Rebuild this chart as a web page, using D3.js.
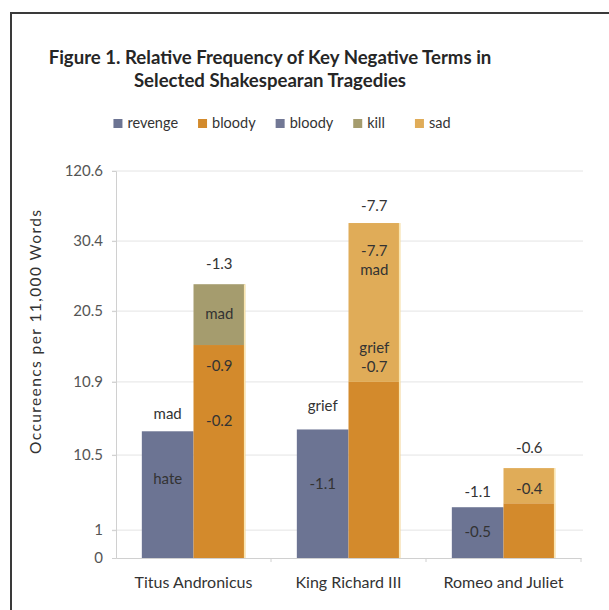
<!DOCTYPE html>
<html>
<head>
<meta charset="utf-8">
<script src="https://cdn.jsdelivr.net/npm/d3@7"></script>
<style>
  html, body { margin: 0; padding: 0; background: #fff; }
  svg { display: block; font-family: Lato, "Open Sans", sans-serif; }
</style>
</head>
<body>
<svg id="chart" width="609" height="610"></svg>
<script>
// Plays and the term series
const categories = ["Titus Andronicus", "King Richard III", "Romeo and Juliet"];
const yTickValues = [0, 1, 10.5, 10.9, 20.5, 30.4, 120.6];
const yTickLabels = ["0", "1", "10.5", "10.9", "20.5", "30.4", "120.6"];

const revenge   = [10.63, 10.64, 3.9];
const bloodyAlt = [0, 0, 0];
const bloody    = [15.9, 10.9, 4.4];
const kill      = [8.4, 0, 0];
const sad       = [0, 42.7, 4.45];

const seriesNames  = ["revenge", "bloody", "bloody", "kill", "sad"];
const seriesValues = [revenge, bloody, bloodyAlt, kill, sad];
const seriesStack  = ["a", "b", "a", "b", "b"];
const seriesColors = ["#6c7493", "#d38a2c", "#727895", "#a59c6e", "#e0ac58"];

// Data labels: play, stack, text, value on the y scale where the label sits
const labels = [
  ["Titus Andronicus", "a", "hate", 7.3],
  ["Titus Andronicus", "a", "mad", 10.72],
  ["Titus Andronicus", "b", "-0.2", 10.68],
  ["Titus Andronicus", "b", "-0.9", 12.9],
  ["Titus Andronicus", "b", "mad", 20.0],
  ["Titus Andronicus", "b", "-1.3", 27.0],
  ["King Richard III", "a", "-1.1", 6.7],
  ["King Richard III", "a", "grief", 10.76],
  ["King Richard III", "b", "grief", 15.4],
  ["King Richard III", "b", "-0.7", 12.8],
  ["King Richard III", "b", "-7.7", 28.8],
  ["King Richard III", "b", "mad", 26.2],
  ["King Richard III", "b", "-7.7", 74.2],
  ["Romeo and Juliet", "a", "-0.5", 0.89],
  ["Romeo and Juliet", "a", "-1.1", 5.7],
  ["Romeo and Juliet", "b", "-0.4", 6.07],
  ["Romeo and Juliet", "b", "-0.6", 10.53]
];

const svg = d3.select("#chart");
const W = 609, H = 610;
const margin = { top: 171, right: 26, bottom: 52, left: 116 };
const innerW = W - margin.left - margin.right;
const innerH = H - margin.top - margin.bottom;

// outer frame
svg.append("rect")
  .attr("x", 11).attr("y", 13)
  .attr("width", 640).attr("height", 640)
  .attr("fill", "#fff")
  .attr("stroke", "#3a3a3a").attr("stroke-width", 2);

// title
const title = svg.append("text")
  .attr("x", 270).attr("y", 64)
  .attr("text-anchor", "middle")
  .attr("font-size", 18.6).attr("font-weight", 700).attr("fill", "#262626");
title.append("tspan").attr("x", 270).text("Figure 1. Relative Frequency of Key Negative Terms in");
title.append("tspan").attr("x", 270).attr("dy", 23).text("Selected Shakespearan Tragedies");

// legend
const legend = svg.append("g");
let lx = 0;
seriesNames.forEach((name, i) => {
  const g = legend.append("g").attr("transform", `translate(${lx},0)`);
  g.append("rect").attr("x", 0).attr("y", -5).attr("width", 9).attr("height", 9)
    .attr("fill", seriesColors[i]);
  const t = g.append("text").attr("x", 14).attr("y", 0)
    .attr("dominant-baseline", "middle")
    .attr("font-size", 14.5).attr("fill", "#333").text(name);
  lx += 14 + t.node().getComputedTextLength() + (i === 3 ? 30 : 20);
});
lx -= 20;
legend.attr("transform", `translate(${282 - lx / 2},124)`);

const plot = svg.append("g").attr("transform", `translate(${margin.left},${margin.top})`);

// axis stops: the tick values sit at these fractions of the plot height
const tickStops = [0, 0.072, 0.266, 0.455, 0.638, 0.819, 1];
const y = d3.scaleLinear()
  .domain(yTickValues)
  .range(tickStops.map(f => innerH * (1 - f)));

const x = d3.scaleBand().domain(categories).range([0, innerW - 2]);
const xs = d3.scaleBand().domain(["a", "b"]).range([0, x.bandwidth()]).paddingOuter(0.5);

// gridlines
plot.append("g")
  .selectAll("line")
  .data(yTickValues.slice(1))
  .join("line")
  .attr("x1", -4).attr("x2", innerW)
  .attr("y1", d => y(d)).attr("y2", d => y(d))
  .attr("stroke", "#e4e4e4").attr("stroke-width", 1);

// y axis
const yAxis = plot.append("g")
  .call(d3.axisLeft(y).tickValues(yTickValues)
    .tickFormat((d, i) => yTickLabels[i]).tickSize(4).tickPadding(9));
yAxis.select(".domain").attr("stroke", "#d0d0d0");
yAxis.selectAll(".tick line").attr("stroke", "#d0d0d0");
yAxis.selectAll(".tick text").attr("font-size", 15).attr("fill", "#555")
  .attr("font-family", "Lato, sans-serif");

// stacked segments
const stackMembers = s => seriesNames.map((_, i) => i).filter(i => seriesStack[i] === s);
categories.forEach((cat, ci) => {
  ["a", "b"].forEach(s => {
    let base = 0;
    const segs = stackMembers(s).map(i => {
      const seg = { i, y0: base, y1: base + seriesValues[i][ci] };
      base = seg.y1;
      return seg;
    }).filter(d => d.y1 > d.y0);
    const bx = x(cat) + xs(s);
    plot.append("g").selectAll("rect")
      .data(segs)
      .join("rect")
      .attr("x", bx)
      .attr("width", xs.bandwidth())
      .attr("y", d => y(d.y1))
      .attr("height", d => y(d.y0) - y(d.y1))
      .attr("fill", d => seriesColors[d.i]);
    if (s === "b" && segs.length) {
      plot.append("line")
        .attr("x1", bx + xs.bandwidth() - 0.5).attr("x2", bx + xs.bandwidth() - 0.5)
        .attr("y1", y(base)).attr("y2", y(0))
        .attr("stroke", "#fbe6b0").attr("stroke-width", 1.5);
    }
  });
});

// x axis
const xAxis = plot.append("g").attr("transform", `translate(0,${innerH})`)
  .call(d3.axisBottom(x).tickSize(0).tickPadding(19));
xAxis.select(".domain").attr("stroke", "#d0d0d0");
xAxis.selectAll(".tick text").attr("font-size", 16).attr("fill", "#333")
  .attr("font-family", "Lato, sans-serif");
xAxis.selectAll(".bound")
  .data(categories)
  .join("line")
  .attr("x1", d => x(d) + x.bandwidth()).attr("x2", d => x(d) + x.bandwidth())
  .attr("y1", 0).attr("y2", 4)
  .attr("stroke", "#d0d0d0");

// data labels
plot.append("g").selectAll("text")
  .data(labels)
  .join("text")
  .attr("x", d => x(d[0]) + xs(d[1]) + xs.bandwidth() / 2)
  .attr("y", d => y(d[3]))
  .attr("text-anchor", "middle")
  .attr("dominant-baseline", "middle")
  .attr("font-size", 15)
  .attr("fill", "#333")
  .text(d => d[2]);

// y axis title
svg.append("text")
  .attr("transform", "translate(37,332) rotate(-90)")
  .attr("text-anchor", "middle")
  .attr("dominant-baseline", "middle")
  .attr("font-size", 15.5).attr("fill", "#333")
  .attr("textLength", 244).attr("lengthAdjust", "spacing")
  .text("Occureencs per 11,000 Words");
</script>
</body>
</html>
